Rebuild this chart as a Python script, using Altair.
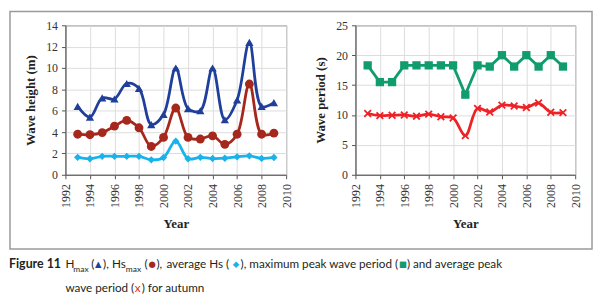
import altair as alt
import pandas as pd

years = list(range(1993, 2010))
h_max = [6.4, 5.4, 7.2, 7.1, 8.55, 8.1, 4.7, 5.65, 10.0, 6.2, 6.0, 10.0, 5.15, 7.0, 12.4, 6.4, 6.75]
hs_max = [3.8, 3.75, 3.95, 4.55, 5.1, 4.4, 2.65, 3.5, 6.25, 3.5, 3.35, 3.65, 2.85, 3.8, 8.5, 3.8, 3.9]
hs_avg = [1.63, 1.5, 1.73, 1.73, 1.73, 1.73, 1.4, 1.62, 3.15, 1.5, 1.63, 1.52, 1.55, 1.68, 1.77, 1.53, 1.62]
tp_max = [18.3, 15.5, 15.5, 18.3, 18.3, 18.3, 18.3, 18.3, 13.4, 18.3, 18.1, 20.0, 18.1, 20.0, 18.1, 20.0, 18.1]
tp_avg = [10.25, 9.9, 9.95, 10.0, 9.8, 10.15, 9.7, 9.5, 6.55, 11.1, 10.5, 11.65, 11.5, 11.25, 12.0, 10.45, 10.4]

C_HMAX = "#1f3f9a"
C_HSMAX = "#a6271c"
C_HSAVG = "#19b2ec"
C_TPMAX = "#109c6c"
C_TPAVG = "#ee2226"

SERIF = "Liberation Serif"
SANS = "Lato"

x_scale = alt.Scale(domain=[1992, 2010], nice=False, zero=False)
x_axis = alt.Axis(title="Year", values=list(range(1992, 2011, 2)), format="d",
                  labelAngle=270, tickSize=4, labelPadding=5, titlePadding=10,
                  grid=True)


def series(values, color, shape, size, interp, y_scale, y_axis, filled=True, line_w=2.8):
    df = pd.DataFrame({"year": years, "value": values})
    base = alt.Chart(df).encode(
        x=alt.X("year:Q", scale=x_scale, axis=x_axis),
        y=alt.Y("value:Q", scale=y_scale, axis=y_axis),
    )
    line = base.mark_line(color=color, strokeWidth=line_w, interpolate=interp)
    if filled:
        pts = base.mark_point(shape=shape, size=size, filled=True, color=color, opacity=1)
    else:
        pts = base.mark_point(shape=shape, size=size, filled=False, color=color,
                              strokeWidth=1.8, opacity=1)
    return line + pts


one = pd.DataFrame({"k": [0]})
CAP = 11.8


def txt(s, x, y, size=CAP, weight="normal", color="#231f20", font=SANS):
    return alt.Chart(one).mark_text(align="left", baseline="alphabetic", font=font,
                                    fontSize=size, fontWeight=weight, color=color).encode(
        x=alt.value(x), y=alt.value(y), text=alt.value(s))


# left panel
yl_scale = alt.Scale(domain=[0, 14], nice=False)
yl_axis = alt.Axis(title="Wave height (m)", values=list(range(0, 15, 2)), tickSize=4,
                   labelPadding=4, titlePadding=8, grid=True)
left_layers = [
    series(h_max, C_HMAX, "triangle-up", 70, "catmull-rom", yl_scale, yl_axis),
    series(hs_max, C_HSMAX, "circle", 80, "catmull-rom", yl_scale, yl_axis),
    series(hs_avg, C_HSAVG, "diamond", 55, "catmull-rom", yl_scale, yl_axis),
]

# border box round both panels
border = alt.Chart(one).mark_rect(fill=None, stroke="#9a9a9a", strokeWidth=1.5).encode(
    x=alt.value(-56), x2=alt.value(532), y=alt.value(-14), y2=alt.value(226))

# caption (positions relative to left plot origin)
oy1 = 245
oy2 = 269
dx = -57
d2 = 4
cap = [
    txt("Figure 11", dx, oy1, size=12.5, weight="bold"),
    txt("H", dx + d2 + 53, oy1),
    txt("max", dx + d2 + 61, oy1 + 4, size=8.5),
    txt("(", dx + d2 + 79, oy1),
    txt("\u25b2", dx + d2 + 83, oy1 - 1, size=8.5, color=C_HMAX, font="DejaVu Sans"),
    txt("),", dx + d2 + 91, oy1),
    txt("Hs", dx + d2 + 100, oy1),
    txt("max", dx + d2 + 114, oy1 + 4, size=8.5),
    txt("(", dx + d2 + 133, oy1),
    txt("\u25cf", dx + d2 + 137, oy1 - 1, size=8.5, color=C_HSMAX, font="DejaVu Sans"),
    txt("),", dx + d2 + 145, oy1),
    txt("average Hs (", dx + d2 + 155, oy1),
    txt("\u25c6", dx + d2 + 222, oy1 - 1, size=8.5, color=C_HSAVG, font="DejaVu Sans"),
    txt("), maximum peak wave period (", dx + d2 + 230, oy1),
    txt("\u25a0", dx + d2 + 390, oy1 - 1, size=8.5, color=C_TPMAX, font="DejaVu Sans"),
    txt(") and average peak", dx + d2 + 398, oy1),
    txt("wave period (", dx + d2 + 53, oy2),
    txt("x", dx + d2 + 123, oy2, color=C_TPAVG),
    txt(") for autumn", dx + d2 + 130, oy2),
]

left = alt.layer(border, *left_layers, *cap).properties(width=223, height=151)

# right panel
yr_scale = alt.Scale(domain=[0, 25], nice=False)
yr_axis = alt.Axis(title="Wave period (s)", values=list(range(0, 26, 5)), tickSize=4,
                   labelPadding=4, titlePadding=8, grid=True)
xshape = "M-1,-1L1,1M-1,1L1,-1"
right = alt.layer(
    series(tp_max, C_TPMAX, "square", 70, "linear", yr_scale, yr_axis),
    series(tp_avg, C_TPAVG, xshape, 45, "catmull-rom", yr_scale, yr_axis, filled=False),
).properties(width=222, height=151)

chart = alt.hconcat(left, right, spacing=70, bounds="flush").properties(
    padding=0, background="white"
).configure_view(
    stroke="#555555", strokeWidth=1
).configure_axis(
    domainColor="#555555", tickColor="#555555", gridColor="#dddddd",
    labelFont=SERIF, labelFontSize=12, labelColor="#333333",
    titleFont=SERIF, titleFontSize=13, titleFontWeight="bold", titleColor="#222222",
)

chart.save("out.html", embed_options={"renderer": "svg", "actions": False})
